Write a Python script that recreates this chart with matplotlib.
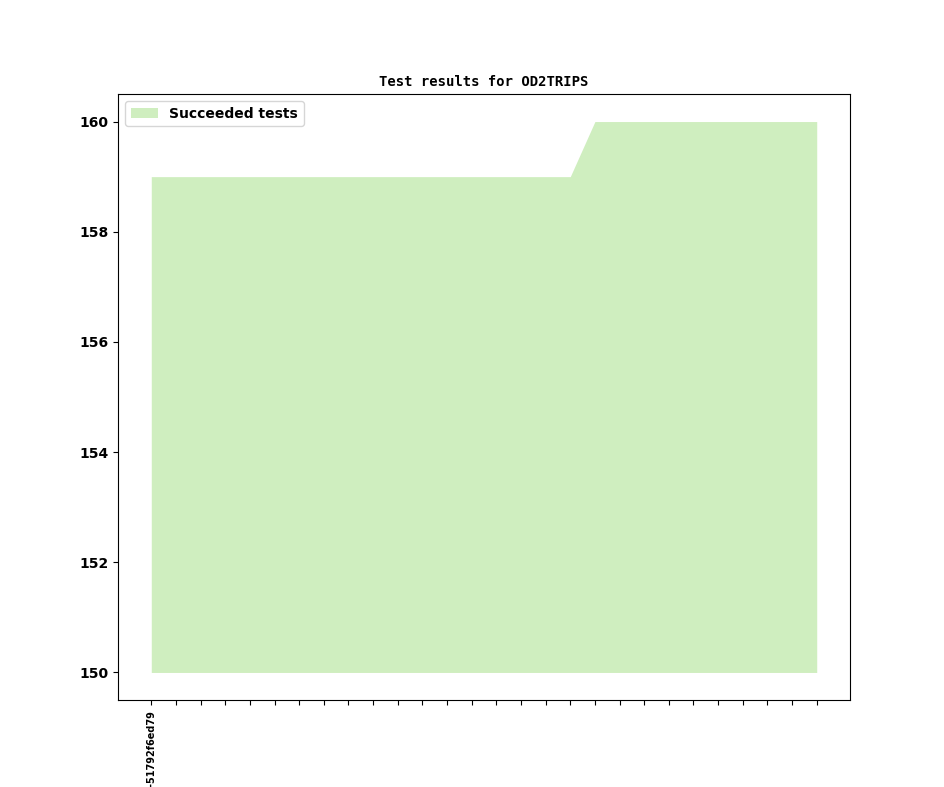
import matplotlib
matplotlib.use("Agg")
import matplotlib.pyplot as plt

commits = ["20240101-51792f6ed79"] + [""] * 27
succeeded = [159] * 18 + [160] * 10
baseline = 150

fig = plt.figure(figsize=(9.44, 7.87), dpi=100)
ax = fig.add_axes([118/944, 1 - 700/787, (850-118)/944, (700-94)/787])
x = list(range(len(commits)))
ax.fill_between(x, baseline, succeeded, color="#cfeebf", linewidth=0, label="Succeeded tests")
ax.set_xticks(x)
ax.set_xticklabels(commits, rotation=90, fontsize=7, fontweight="bold")
for lab in ax.get_yticklabels():
    lab.set_fontweight("bold")
ax.tick_params(axis="y", labelsize=10)
ax.set_title("Test results for OD2TRIPS", family="DejaVu Sans Mono", fontweight="bold", fontsize=10)
leg = ax.legend(loc="upper left", prop={"weight": "bold", "size": 10})
fig.canvas.draw()
for lab in ax.get_yticklabels():
    lab.set_fontweight("bold")
fig.savefig("out.png", dpi=100)
